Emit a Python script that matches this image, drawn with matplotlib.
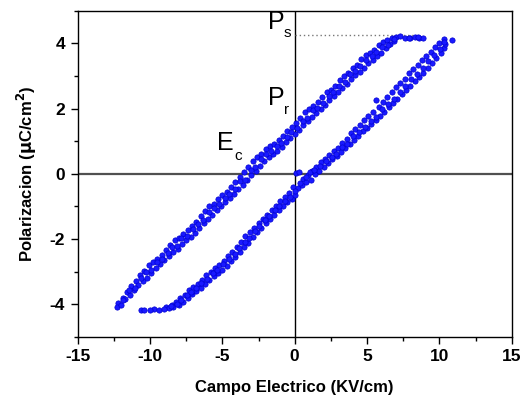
import matplotlib
matplotlib.use("Agg")
import matplotlib.pyplot as plt
from matplotlib.ticker import MultipleLocator

plt.rcParams['font.family'] = ['Liberation Sans', 'DejaVu Sans']
plt.rcParams['axes.unicode_minus'] = False

# Upper (descending) branch, interleaved strands
up_a_x = [-12.2, -11.9, -11.6, -11.3, -11.0, -10.7, -10.4, -10.1, -9.8, -9.5, -9.2, -8.9, -8.6, -8.3, -8.0, -7.7,
          -7.4, -7.1, -6.8, -6.5, -6.2, -5.9, -5.6, -5.3, -5.0, -4.7, -4.4, -4.1, -3.8, -3.5, -3.2, -2.9,
          -2.6, -2.3, -2.0, -1.7, -1.4, -1.1, -0.8, -0.5, -0.2, 0.1, 0.4, 0.7, 1.0, 1.3, 1.6, 1.9,
          2.2, 2.5, 2.8, 3.1, 3.4, 3.7, 4.0, 4.3, 4.6, 4.9, 5.2, 5.5, 5.8, 6.1, 6.4, 6.7, 7.0, 7.3]
up_a_y = [-3.95, -3.80, -3.62, -3.45, -3.30, -3.12, -2.98, -2.80, -2.72, -2.60, -2.48, -2.35, -2.18, -2.02, -1.98, -1.85,
          -1.72, -1.60, -1.48, -1.30, -1.15, -1.00, -0.92, -0.78, -0.65, -0.55, -0.40, -0.25, -0.10, 0.05, 0.20, 0.38,
          0.50, 0.62, 0.75, 0.85, 0.92, 1.05, 1.15, 1.30, 1.42, 1.55, 1.70, 1.88, 2.00, 2.08, 2.20, 2.35,
          2.50, 2.58, 2.70, 2.88, 3.00, 3.10, 3.25, 3.35, 3.52, 3.65, 3.72, 3.80, 3.95, 4.05, 4.10, 4.15, 4.20, 4.22]

up_b_x = [-12.3, -12.0, -11.7, -11.4, -11.1, -10.8, -10.5, -10.2, -9.9, -9.6, -9.3, -9.0, -8.7, -8.4, -8.1, -7.8,
          -7.5, -7.2, -6.9, -6.6, -6.3, -6.0, -5.7, -5.4, -5.1, -4.8, -4.5, -4.2, -3.9, -3.6, -3.3, -3.0,
          -2.7, -2.4, -2.1, -1.8, -1.5, -1.2, -0.9, -0.6, -0.3, 0.0, 0.3, 0.6, 0.9, 1.2, 1.5, 1.8,
          2.1, 2.4, 2.7, 3.0, 3.3, 3.6, 3.9, 4.2, 4.5, 4.8, 5.1, 5.4, 5.7, 6.0, 6.3, 6.6, 6.9, 7.6,
          8.0, 8.3, 8.6, 8.9]
up_b_y = [-4.10, -4.02, -3.85, -3.72, -3.55, -3.40, -3.30, -3.20, -3.05, -2.90, -2.78, -2.65, -2.52, -2.40, -2.30, -2.15,
          -2.02, -1.95, -1.82, -1.65, -1.52, -1.38, -1.25, -1.12, -1.00, -0.88, -0.75, -0.62, -0.48, -0.35, -0.20, -0.05,
          0.10, 0.25, 0.38, 0.52, 0.60, 0.70, 0.82, 0.98, 1.10, 1.22, 1.35, 1.50, 1.62, 1.75, 1.85, 1.98,
          2.10, 2.25, 2.38, 2.50, 2.62, 2.75, 2.90, 3.02, 3.12, 3.25, 3.40, 3.50, 3.62, 3.72, 3.85, 3.98, 4.08, 4.15,
          4.18, 4.20, 4.18, 4.17]

up_c_x = [-11.85, -11.45, -11.05, -10.6, -10.25, -9.95, -9.55, -9.15, -8.75, -8.45, -8.15, -7.85, -7.45, -7.05,
          -6.65, -6.35, -5.95, -5.55, -5.25, -4.85, -4.55, -4.15, -3.75, -3.45, -3.05, -2.75, -2.35, -1.95,
          -1.65, -1.25, -0.95, -0.55, -0.25, 0.15, 0.55, 0.85, 1.25, 1.55, 1.95, 2.35, 2.65, 3.05,
          3.45, 3.85, 4.15, 4.55, 4.95, 5.35, 5.65, 6.05, 6.45, 6.85, 7.9, 8.5]
up_c_y = [-3.88, -3.55, -3.50, -3.20, -3.02, -2.95, -2.70, -2.62, -2.42, -2.25, -2.20, -1.98, -1.90, -1.70,
          -1.55, -1.42, -1.18, -1.05, -0.92, -0.75, -0.62, -0.48, -0.22, -0.18, 0.12, 0.22, 0.45, 0.60,
          0.70, 0.85, 0.95, 1.12, 1.28, 1.40, 1.62, 1.72, 1.95, 2.02, 2.18, 2.40, 2.50, 2.70,
          2.82, 3.05, 3.15, 3.30, 3.48, 3.60, 3.75, 3.88, 3.95, 4.12, 4.16, 4.20]

# Lower (ascending) branch, interleaved strands
lo_a_x = [-10.6, -10.4, -9.7, -9.4, -8.9, -8.5, -8.2, -7.9, -7.6, -7.3, -7.0, -6.7, -6.4, -6.1, -5.8, -5.5,
          -5.2, -4.9, -4.6, -4.3, -4.0, -3.7, -3.4, -3.1, -2.8, -2.5, -2.2, -1.9, -1.6, -1.3, -1.0, -0.7,
          -0.4, -0.1, 0.1, 0.3, 0.6, 0.9, 1.2, 1.5, 1.8, 2.1, 2.4, 2.7, 3.0, 3.3, 3.6, 3.9,
          4.2, 4.5, 4.8, 5.1, 5.4, 5.6, 5.8, 6.1, 6.4, 6.7, 7.0, 7.3, 7.6, 7.9, 8.2, 8.5, 8.8, 9.1,
          9.4, 9.7, 10.0, 10.3, 10.9]
lo_a_y = [-4.18, -4.18, -4.15, -4.17, -4.10, -4.02, -3.92, -3.82, -3.72, -3.58, -3.48, -3.38, -3.25, -3.12, -3.02, -2.90,
          -2.80, -2.68, -2.52, -2.40, -2.25, -2.10, -1.92, -1.80, -1.65, -1.50, -1.38, -1.25, -1.12, -0.98, -0.85, -0.72,
          -0.58, -0.42, 0.02, 0.05, -0.15, -0.05, 0.10, 0.22, 0.35, 0.45, 0.58, 0.70, 0.80, 0.95, 1.08, 1.25,
          1.38, 1.50, 1.65, 1.78, 1.90, 2.25, 2.05, 2.20, 2.35, 2.50, 2.65, 2.80, 2.92, 3.08, 3.22, 3.35, 3.48, 3.62,
          3.75, 3.88, 4.02, 4.12, 4.10]

lo_b_x = [-8.7, -8.4, -8.0, -7.7, -7.4, -7.1, -6.8, -6.5, -6.2, -5.9, -5.6, -5.3, -5.0, -4.7, -4.4, -4.1,
          -3.8, -3.5, -3.2, -2.9, -2.6, -2.3, -2.0, -1.7, -1.4, -1.1, -0.8, -0.5, -0.2, 0.0, 0.2, 0.5,
          0.8, 1.1, 1.4, 1.7, 2.0, 2.3, 2.6, 2.9, 3.2, 3.5, 3.8, 4.1, 4.4, 4.7, 5.0, 5.3,
          5.6, 5.9, 6.2, 6.5, 6.8, 7.1, 7.4, 7.7, 8.0, 8.3, 8.6, 8.9, 9.2, 9.5, 9.8, 10.1, 10.3, 10.4]
lo_b_y = [-4.12, -4.10, -4.02, -3.92, -3.82, -3.70, -3.60, -3.50, -3.38, -3.25, -3.15, -3.05, -2.95, -2.82, -2.68, -2.55,
          -2.40, -2.25, -2.12, -1.95, -1.80, -1.65, -1.52, -1.40, -1.25, -1.12, -1.00, -0.88, -0.78, -0.65, -0.45, -0.35,
          -0.25, -0.18, 0.00, 0.10, 0.22, 0.32, 0.45, 0.55, 0.68, 0.80, 0.92, 1.05, 1.15, 1.30, 1.40, 1.52,
          1.65, 1.78, 1.90, 2.05, 2.18, 2.30, 2.45, 2.58, 2.70, 2.85, 2.98, 3.10, 3.25, 3.40, 3.55, 3.70, 3.85, 3.98]

lo_c_x = [-10.0, -9.0, -8.55, -8.15, -7.85, -7.45, -7.15, -6.85, -6.45, -6.05, -5.65, -5.35, -4.95, -4.55,
          -4.15, -3.85, -3.45, -3.15, -2.75, -2.45, -2.05, -1.75, -1.35, -1.05, -0.65, -0.35, 0.05, 0.35,
          0.75, 1.05, 1.35, 1.75, 2.15, 2.55, 2.85, 3.25, 3.65, 4.05, 4.45, 4.85, 5.25, 5.65,
          6.05, 6.45, 6.85, 7.25, 7.65, 8.05, 8.45, 8.85, 9.25, 9.65, 10.05, 10.35]
lo_c_y = [-4.17, -4.14, -4.06, -4.00, -3.88, -3.72, -3.62, -3.50, -3.35, -3.22, -3.05, -2.95, -2.78, -2.62,
          -2.45, -2.28, -2.08, -1.98, -1.75, -1.60, -1.42, -1.30, -1.10, -0.98, -0.82, -0.70, -0.52, -0.28,
          -0.10, 0.05, 0.12, 0.25, 0.38, 0.52, 0.62, 0.82, 0.92, 1.15, 1.28, 1.45, 1.62, 1.75,
          1.98, 2.15, 2.30, 2.52, 2.70, 2.92, 3.05, 3.25, 3.45, 3.65, 3.82, 4.05]

x_ticks = [-15, -10, -5, 0, 5, 10, 15]
y_ticks = [-4, -2, 0, 2, 4]
ps_value = 4.27
ps_x_end = 8.3

fig = plt.figure(figsize=(5.31, 3.98), dpi=100)
ax = fig.add_axes([0.1463, 0.1538, 0.8173, 0.8191])

ax.axhline(0, color='#505050', lw=1.6, zorder=1)
ax.axvline(0, color='black', lw=1.0, zorder=1)
ax.plot([0, ps_x_end], [ps_value, ps_value], ls=(0, (1, 2)), color='#777777', lw=1.0, zorder=1)

mk = dict(ls='none', marker='o', ms=3.8, mfc='#1a1aff', mec='#0000d0', mew=0.5, zorder=3)
for xs, ys in [(up_a_x, up_a_y), (up_b_x, up_b_y), (up_c_x, up_c_y),
               (lo_a_x, lo_a_y), (lo_b_x, lo_b_y), (lo_c_x, lo_c_y)]:
    ax.plot(xs, ys, **mk)

ax.set_xlim(-15, 15)
ax.set_ylim(-5, 5)
ax.set_xticks(x_ticks)
ax.set_yticks(y_ticks)
ax.xaxis.set_minor_locator(MultipleLocator(2.5))
ax.yaxis.set_minor_locator(MultipleLocator(1))
ax.tick_params(which='major', direction='out', length=5, width=1, pad=4, labelsize=12.5)
ax.tick_params(which='minor', direction='out', length=3, width=1)
for lab in ax.get_xticklabels() + ax.get_yticklabels():
    lab.set_fontweight('bold')
for s in ax.spines.values():
    s.set_linewidth(1.0)

ax.set_xlabel('Campo Electrico (KV/cm)', fontsize=12, fontweight='bold', labelpad=11)
ax.set_ylabel(r'Polarizacion ($\mathbf{\mu}$C/cm$^\mathbf{2}$)', fontsize=12, fontweight='bold', labelpad=8)

ax.text(-1.83, 4.43, 'P', fontsize=18, ha='left', va='baseline')
ax.text(-0.75, 4.19, 's', fontsize=11, ha='left', va='baseline')
ax.text(-1.83, 2.11, 'P', fontsize=18, ha='left', va='baseline')
ax.text(-0.75, 1.82, 'r', fontsize=11, ha='left', va='baseline')
ax.text(-5.35, 0.73, 'E', fontsize=18, ha='left', va='baseline')
ax.text(-4.2, 0.42, 'c', fontsize=11, ha='left', va='baseline')

fig.savefig('out.png', dpi=100)
